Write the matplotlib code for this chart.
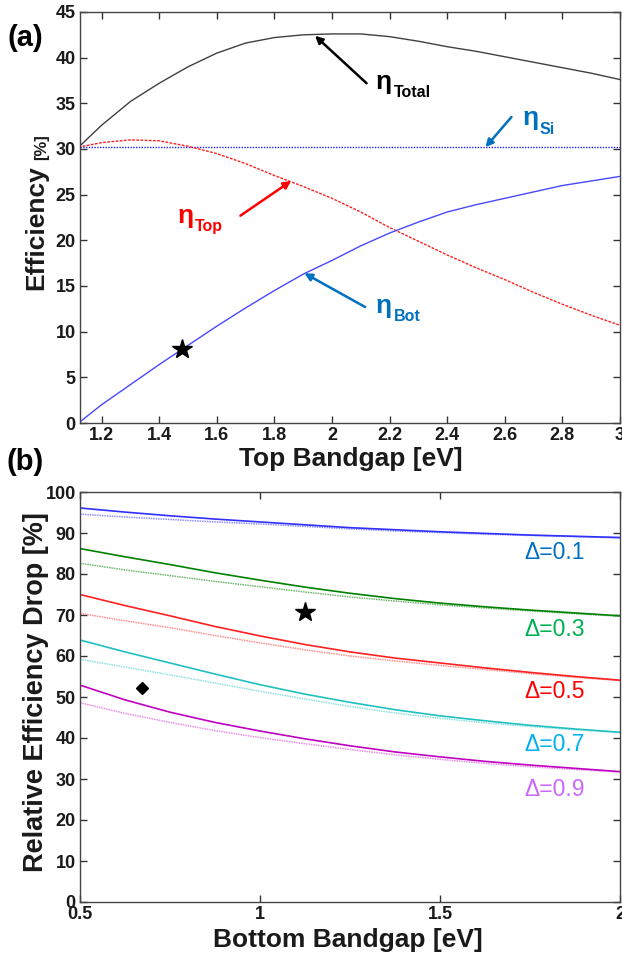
#!/usr/bin/env python3
"""Two-panel tandem cell efficiency figure: (a) vs top bandgap, (b) relative drop vs bottom bandgap."""

import matplotlib

matplotlib.use("Agg")
import matplotlib.pyplot as plt
from matplotlib.ticker import FuncFormatter, MultipleLocator
from matplotlib.transforms import offset_copy

plt.rcParams["font.family"] = ["Liberation Sans", "DejaVu Sans"]

# ---- panel (a) data ----
top_bg = [1.12, 1.2, 1.3, 1.4, 1.5, 1.6, 1.7, 1.8, 1.9, 2.0, 2.1, 2.2,
          2.3, 2.4, 2.5, 2.6, 2.7, 2.8, 2.9, 3.0]
eta_total = [30.2, 32.6, 35.2, 37.2, 39.0, 40.5, 41.6, 42.2, 42.5, 42.6, 42.6, 42.3,
             41.8, 41.2, 40.7, 40.1, 39.5, 38.9, 38.3, 37.6]
eta_top = [30.2, 30.7, 31.0, 30.9, 30.3, 29.5, 28.4, 27.1, 25.9, 24.6, 23.1, 21.4,
           19.9, 18.4, 17.0, 15.7, 14.3, 13.0, 11.8, 10.7]
eta_bot = [0.0, 2.0, 4.2, 6.4, 8.5, 10.6, 12.6, 14.5, 16.3, 17.8, 19.4, 20.8,
           22.0, 23.1, 23.9, 24.6, 25.3, 26.0, 26.5, 27.0]
eta_si = 30.2
star_a = (1.48, 8.1)

# ---- panel (b) data ----
bot_bg = [0.5, 0.625, 0.75, 0.875, 1.0, 1.125, 1.25, 1.375, 1.5, 1.625, 1.75, 1.875, 2.0]
deltas = ["0.1", "0.3", "0.5", "0.7", "0.9"]
drop_solid = [
    [96.1, 95.1, 94.2, 93.4, 92.7, 92.0, 91.3, 90.8, 90.3, 89.9, 89.5, 89.2, 88.9],
    [86.2, 84.2, 82.3, 80.3, 78.5, 76.8, 75.3, 74.0, 72.9, 72.0, 71.2, 70.5, 69.8],
    [75.0, 72.3, 69.8, 67.2, 64.9, 62.8, 61.0, 59.5, 58.3, 57.1, 56.0, 55.0, 54.1],
    [63.9, 61.0, 58.3, 55.6, 53.0, 50.7, 48.7, 46.9, 45.4, 44.2, 43.1, 42.2, 41.4],
    [52.9, 49.3, 46.3, 43.8, 41.7, 39.8, 38.1, 36.6, 35.4, 34.3, 33.4, 32.6, 31.8],
]
drop_dotted = [
    [94.6, 93.9, 93.3, 92.7, 92.2, 91.6, 91.0, 90.5, 90.1, 89.7, 89.4, 89.1, 88.8],
    [82.6, 81.0, 79.6, 78.2, 76.9, 75.6, 74.4, 73.4, 72.5, 71.7, 71.0, 70.3, 69.7],
    [70.4, 68.6, 66.9, 65.0, 63.2, 61.5, 60.0, 58.8, 57.7, 56.7, 55.7, 54.8, 54.0],
    [59.2, 57.3, 55.4, 53.4, 51.4, 49.5, 47.7, 46.1, 44.8, 43.7, 42.8, 42.0, 41.3],
    [48.6, 46.0, 43.8, 41.8, 40.1, 38.6, 37.2, 35.9, 34.8, 33.8, 33.0, 32.3, 31.7],
]
star_b = (1.126, 70.7)
diamond_b = (0.672, 52.3)

solid_colors = ["#3030ff", "#008000", "#ff2020", "#20c0c0", "#c000c0"]
dotted_colors = ["#9090ff", "#70b870", "#ff9090", "#90e0e0", "#e890e8"]
label_colors = ["#0070c0", "#00b050", "#ff0000", "#00b0f0", "#cc66ff"]
label_y = [83.7, 64.9, 49.8, 36.9, 25.9]

TICK_KW = dict(direction="in", top=True, right=True, length=5, width=1,
               labelsize=13, colors="#333333", labelcolor="#1a1a1a", pad=3)


def style_axes(ax):
    for s in ax.spines.values():
        s.set_color("#444444")
        s.set_linewidth(1.0)
    ax.tick_params(**TICK_KW)
    for lab in ax.get_xticklabels() + ax.get_yticklabels():
        lab.set_fontweight("bold")
    ax.xaxis.set_major_formatter(FuncFormatter(lambda v, p: f"{v:g}"))


def eta_label(ax, x, y, sub, color):
    ax.text(x, y, "η", fontsize=19, fontweight="bold", color=color,
            ha="left", va="baseline")
    tr = offset_copy(ax.transData, fig=ax.figure, x=12.5, y=-6, units="points")
    ax.text(x, y, sub, transform=tr, fontsize=11.5, fontweight="bold",
            color=color, ha="left", va="baseline")


def arrow(ax, tip, tail, color):
    ax.annotate("", xy=tip, xytext=tail,
                arrowprops=dict(arrowstyle="-|>", color=color, lw=1.8,
                                mutation_scale=11, shrinkA=0, shrinkB=0))


fig = plt.figure(figsize=(6.22, 9.56), dpi=100)

# ---------------- panel (a) ----------------
ax1 = fig.add_axes([80 / 622, 1 - 423 / 956, 540 / 622, 411 / 956])
ax1.plot(top_bg, eta_total, color="#404040", lw=1.0)
ax1.axhline(eta_si, color="#2020ff", lw=1.0, ls=(0, (1, 1)))
ax1.plot(top_bg, eta_top, color="#ff2020", lw=1.0, ls=(0, (2, 1)))
ax1.plot(top_bg, eta_bot, color="#4848ff", lw=1.0)
ax1.plot(*star_a, marker="*", color="black", ms=15, ls="none")
ax1.set_xlim(1.125, 3.0)
ax1.set_ylim(0, 45)
ax1.xaxis.set_major_locator(MultipleLocator(0.2))
ax1.yaxis.set_major_locator(MultipleLocator(5))
style_axes(ax1)

arrow(ax1, (1.941, 42.4), (2.12, 37.2), "black")
arrow(ax1, (2.533, 30.2), (2.623, 33.5), "#0070c0")
arrow(ax1, (1.858, 26.5), (1.682, 22.7), "#ff0000")
arrow(ax1, (1.904, 16.4), (2.115, 12.7), "#0070c0")
eta_label(ax1, 2.153, 36.6, "Total", "black")
eta_label(ax1, 2.661, 32.6, "Si", "#0070c0")
eta_label(ax1, 1.464, 21.9, "Top", "#ff0000")
eta_label(ax1, 2.153, 12.05, "Bot", "#0070c0")

fig.text(25 / 622, 1 - 38 / 956, "(a)", fontsize=21, fontweight="bold",
         ha="center", va="center")
fig.text(36 / 622, 1 - 228 / 956, "Efficiency", fontsize=19, fontweight="bold",
         rotation=90, ha="center", va="center", color="#1a1a1a")
fig.text(42 / 622, 1 - 147 / 956, "[%]", fontsize=12, fontweight="bold",
         rotation=90, ha="center", va="center", color="#1a1a1a")
fig.text(351 / 622, 1 - 459 / 956, "Top Bandgap [eV]", fontsize=19,
         fontweight="bold", ha="center", va="center", color="#1a1a1a")

# ---------------- panel (b) ----------------
ax2 = fig.add_axes([80 / 622, 1 - 902 / 956, 540 / 622, 410 / 956])
for i, d in enumerate(deltas):
    ax2.plot(bot_bg, drop_dotted[i], color=dotted_colors[i], lw=1.1, ls=(0, (1, 0.6)))
    ax2.plot(bot_bg, drop_solid[i], color=solid_colors[i], lw=1.2)
    ax2.text(1.735, label_y[i], "Δ=" + d, fontsize=16.5, color=label_colors[i],
             ha="left", va="baseline")
ax2.plot(*star_b, marker="*", color="black", ms=15, ls="none")
ax2.plot(*diamond_b, marker="D", color="black", ms=6, ls="none")
ax2.set_xlim(0.5, 2.0)
ax2.set_ylim(0, 100)
ax2.xaxis.set_major_locator(MultipleLocator(0.5))
ax2.yaxis.set_major_locator(MultipleLocator(10))
style_axes(ax2)

fig.text(25 / 622, 1 - 462 / 956, "(b)", fontsize=21, fontweight="bold",
         ha="center", va="center")
fig.text(36 / 622, 1 - 692 / 956, "Relative Efficiency Drop [%]", fontsize=19.5,
         fontweight="bold", rotation=90, ha="center", va="center", color="#1a1a1a")
fig.text(348 / 622, 1 - 940 / 956, "Bottom Bandgap [eV]", fontsize=19,
         fontweight="bold", ha="center", va="center", color="#1a1a1a")

fig.savefig("out.png", dpi=100)
